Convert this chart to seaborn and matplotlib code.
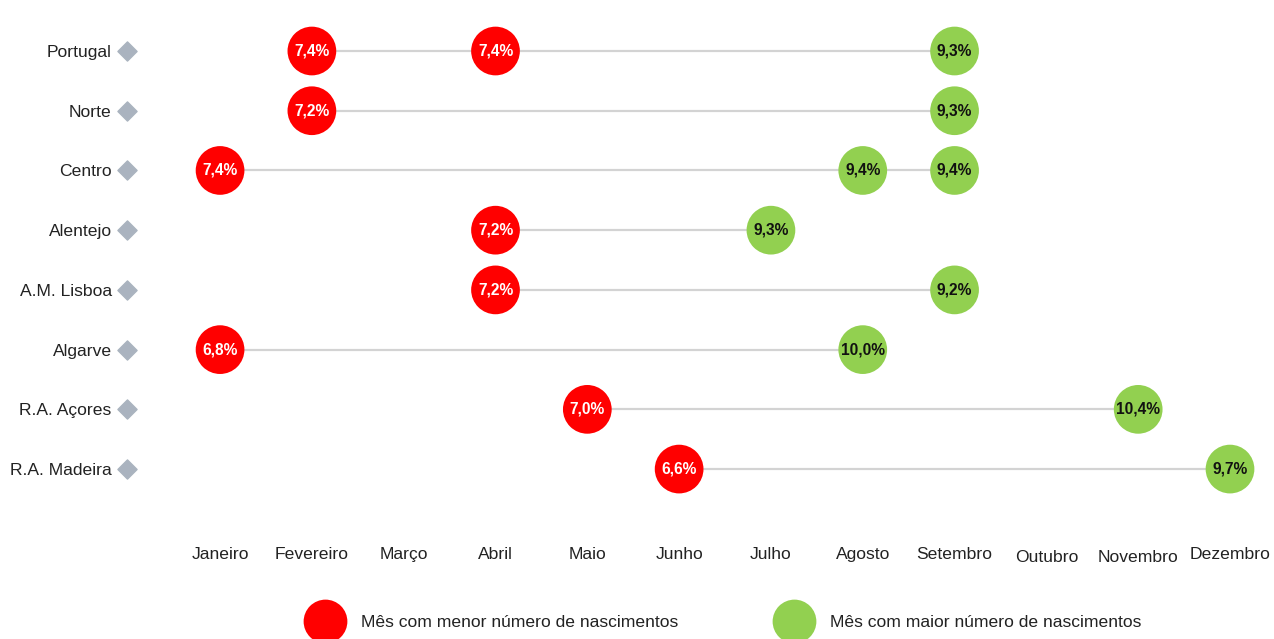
import matplotlib
matplotlib.use("Agg")
import matplotlib.pyplot as plt
from matplotlib.lines import Line2D
import matplotlib.transforms as mtransforms
import seaborn as sns
import pandas as pd

# --- data ---------------------------------------------------------------
meses = ["Janeiro", "Fevereiro", "Março", "Abril", "Maio", "Junho", "Julho",
         "Agosto", "Setembro", "Outubro", "Novembro", "Dezembro"]
regioes = ["Portugal", "Norte", "Centro", "Alentejo", "A.M. Lisboa",
           "Algarve", "R.A. Açores", "R.A. Madeira"]
menor_mes = [["Fevereiro", "Abril"], ["Fevereiro"], ["Janeiro"], ["Abril"],
             ["Abril"], ["Janeiro"], ["Maio"], ["Junho"]]
menor_valor = [7.4, 7.2, 7.4, 7.2, 7.2, 6.8, 7.0, 6.6]
maior_mes = [["Setembro"], ["Setembro"], ["Agosto", "Setembro"], ["Julho"],
             ["Setembro"], ["Agosto"], ["Novembro"], ["Dezembro"]]
maior_valor = [9.3, 9.3, 9.4, 9.3, 9.2, 10.0, 10.4, 9.7]

lbl_menor = "Mês com menor número de nascimentos"
lbl_maior = "Mês com maior número de nascimentos"

rows = []
for i, r in enumerate(regioes):
    for m in menor_mes[i]:
        rows.append({"regiao": r, "y": i, "x": meses.index(m),
                     "valor": menor_valor[i], "tipo": lbl_menor})
    for m in maior_mes[i]:
        rows.append({"regiao": r, "y": i, "x": meses.index(m),
                     "valor": maior_valor[i], "tipo": lbl_maior})
df = pd.DataFrame(rows)

RED = "#ff0000"
GREEN = "#92d050"
FS = 12.6

# --- figure -------------------------------------------------------------
sns.set_theme(style="white")
plt.rcParams["font.family"] = ["Liberation Sans", "DejaVu Sans"]

fig = plt.figure(figsize=(12.74, 6.39), dpi=100)
ax = fig.add_axes([0.1367, 0.2192, 0.8612, 0.7477])

# connecting lines from first to last month of each region
span = df.groupby("y")["x"].agg(["min", "max"]).reset_index()
ax.hlines(span["y"], span["min"], span["max"], color="#d3d3d3",
          linewidth=1.6, zorder=1)

sns.scatterplot(data=df, x="x", y="y", hue="tipo",
                palette={lbl_menor: RED, lbl_maior: GREEN},
                s=1230, edgecolor="none", linewidth=0, legend=False,
                zorder=2, ax=ax)

for _, row in df.iterrows():
    txt = f"{row['valor']:.1f}%".replace(".", ",")
    ax.text(row["x"], row["y"], txt, ha="center", va="center",
            fontsize=11.2, fontweight="bold",
            color="white" if row["tipo"] == lbl_menor else "#111111",
            zorder=3)

ax.set_xlim(-0.5, 11.45)
ax.set_ylim(len(regioes) - 0.5, -0.5)
ax.set_xticks(range(len(meses)))
ax.set_xticklabels(meses, fontsize=FS, color="#222222")
ax.set_yticks(range(len(regioes)))
ax.set_yticklabels(regioes, fontsize=FS, color="#222222")
ax.tick_params(axis="x", length=0, pad=34.5)
ax.tick_params(axis="y", length=0, pad=45)
ax.set_xlabel("")
ax.set_ylabel("")
for s in ax.spines.values():
    s.set_visible(False)

# two month labels sit slightly lower
shift = mtransforms.ScaledTranslation(0, -3 / 100, fig.dpi_scale_trans)
for t in ax.get_xticklabels():
    if t.get_text() in ("Outubro", "Novembro"):
        t.set_transform(t.get_transform() + shift)

# diamond bullets beside region names
trans = mtransforms.blended_transform_factory(ax.transAxes, ax.transData)
ax.scatter([-0.0428] * len(regioes), range(len(regioes)), marker="D",
           s=95, color="#aab3bf", transform=trans, clip_on=False, zorder=2)

handles = [
    Line2D([], [], marker="o", linestyle="none", markersize=31.5,
           markerfacecolor=RED, markeredgecolor="none", label=lbl_menor),
    Line2D([], [], marker="o", linestyle="none", markersize=31.5,
           markerfacecolor=GREEN, markeredgecolor="none", label=lbl_maior),
]
fig.legend(handles=handles, loc="center", bbox_to_anchor=(0.567, 0.0255),
           ncol=2, frameon=False, fontsize=FS, handlelength=2.5,
           handletextpad=0.8, columnspacing=5.4, labelcolor="#222222")

fig.savefig("out.png", dpi=100, facecolor="white")
